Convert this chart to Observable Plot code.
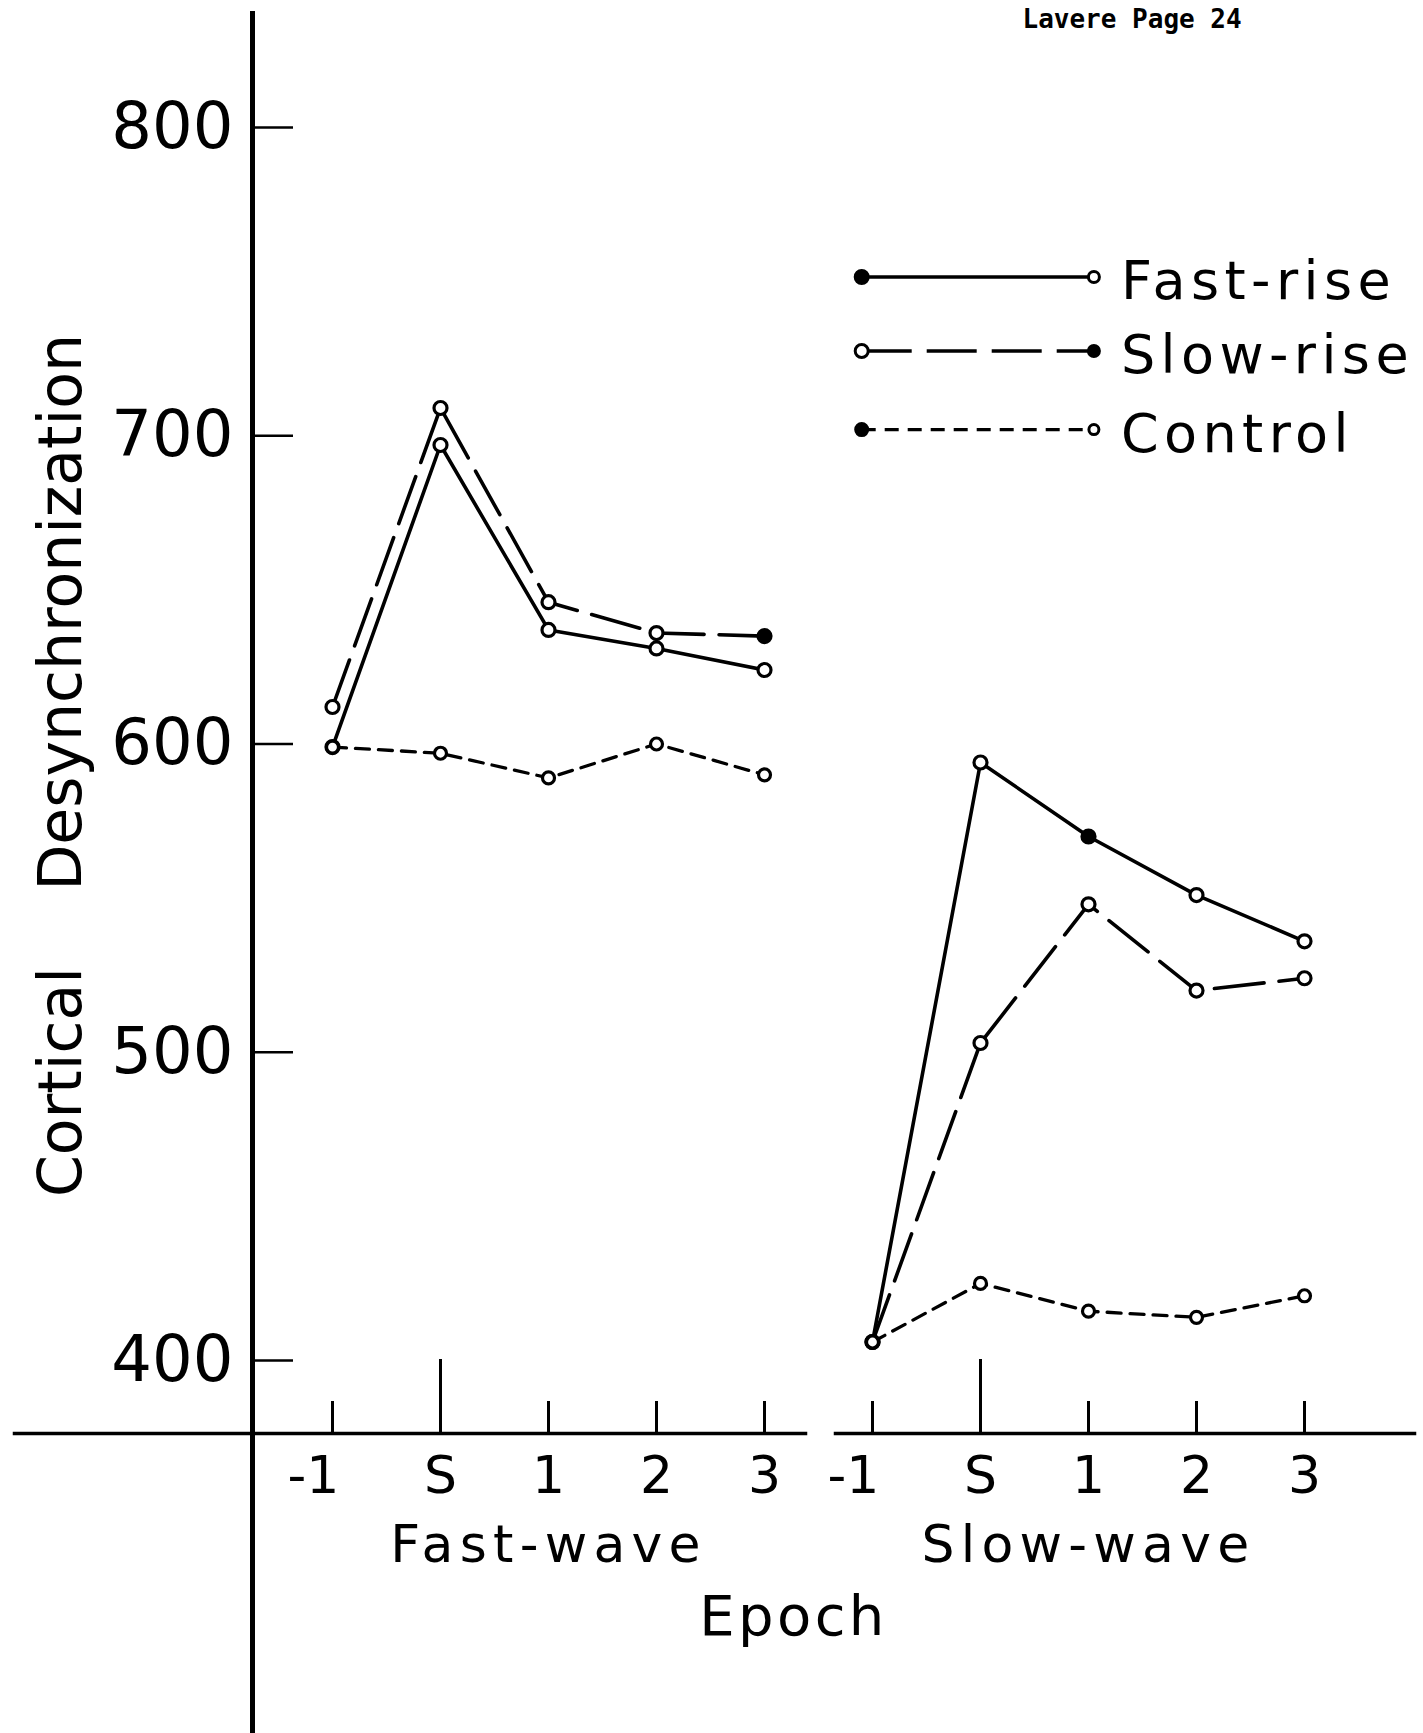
<!DOCTYPE html>
<html>
<head>
<meta charset="utf-8">
<script src="https://cdn.jsdelivr.net/npm/d3@7"></script>
<script src="https://cdn.jsdelivr.net/npm/@observablehq/plot@0.6"></script>
<style>
  html, body { margin: 0; padding: 0; background: #fff; }
  #chart svg { display: block; }
</style>
</head>
<body>
<div id="chart"></div>
<script>
// ---- data ----
const epochLabels = ["-1", "S", "1", "2", "3"];
const groups = ["Fast-wave", "Slow-wave"];
const seriesNames = ["Fast-rise", "Slow-rise", "Control"];
const fastRise = [599, 697, 637, 631, 624, 406, 594, 570, 551, 536];
const slowRise = [612, 709, 646, 636, 635, 406, 503, 548, 520, 524];
const control  = [599, 597, 589, 600, 590, 406, 425, 416, 414, 421];
const filledPoints = { "Fast-rise": [7], "Slow-rise": [4], "Control": [] };
const yTicks = [400, 500, 600, 700, 800];
const pageLabel = "Lavere Page 24";
const xTitle = "Epoch";
const yTitle = "Cortical\u00a0\u00a0\u00a0\u00a0Desynchronization";

// ---- styles ----
const dashes = { "Fast-rise": null, "Slow-rise": "50,15", "Control": "14,9" };
const widths = { "Fast-rise": 3.6, "Slow-rise": 3.6, "Control": 3.3 };
const radii = { "Fast-rise": 6.5, "Slow-rise": 6.5, "Control": 6 };
// legend placement (in scale units)
const legendX1 = 4.9, legendX2 = 7.05, legendTextX = 7.3;
const legendY = [751.5, 727.5, 702];
const legendLeftFilled = [true, false, true];

const seriesValues = { "Fast-rise": fastRise, "Slow-rise": slowRise, "Control": control };
const rows = [];
for (const s of seriesNames) {
  seriesValues[s].forEach((v, i) => {
    rows.push({ series: s, group: groups[Math.floor(i / epochLabels.length)], idx: i, value: v,
                filled: filledPoints[s].includes(i) });
  });
}
const n = epochLabels.length * groups.length;
const allIdx = d3.range(n);
const stimIdx = allIdx.filter(i => epochLabels[i % epochLabels.length] === "S");
const smallIdx = allIdx.filter(i => !stimIdx.includes(i));
const minusIdx = allIdx.filter(i => epochLabels[i % epochLabels.length].startsWith("-"));
const plainIdx = allIdx.filter(i => !minusIdx.includes(i));
const groupCenters = groups.map((g, k) => k * epochLabels.length + (epochLabels.length - 1) / 2);

const marks = [
  Plot.frame({ anchor: "left", strokeWidth: 5, insetBottom: -300 }),
  Plot.frame({ anchor: "bottom", strokeWidth: 3.5, insetLeft: -238, insetRight: 609 }),
  Plot.frame({ anchor: "bottom", strokeWidth: 3.5, insetLeft: 583 }),
  Plot.axisY({ ticks: yTicks, tickSize: -41, tickPadding: 60, strokeWidth: 2.5, fontSize: 64, label: null }),
  Plot.axisX({ ticks: smallIdx, tickSize: -32, strokeWidth: 3, tickFormat: () => "", label: null }),
  Plot.axisX({ ticks: stimIdx, tickSize: -74, strokeWidth: 3, tickFormat: () => "", label: null }),
  Plot.axisX({ ticks: plainIdx, tickSize: 0, tickPadding: 23, fontSize: 52,
               tickFormat: i => epochLabels[i % epochLabels.length], label: null }),
  Plot.axisX({ ticks: minusIdx, tickSize: 0, tickPadding: 23, fontSize: 52, dx: -19,
               tickFormat: i => epochLabels[i % epochLabels.length], label: null }),
  Plot.axisX({ ticks: groupCenters, tickSize: 0, tickPadding: 92, fontSize: 52,
               tickFormat: c => groups[groupCenters.indexOf(c)], label: null }),
  Plot.text([yTitle], { frameAnchor: "left", rotate: -90, dx: -191, dy: 42, fontSize: 60,
                        textAnchor: "middle", lineAnchor: "middle" }),
  Plot.text([xTitle], { frameAnchor: "bottom", dx: -40, dy: 184, fontSize: 56, lineAnchor: "middle" }),
  Plot.text([pageLabel], { frameAnchor: "top-left", dx: 770, dy: 14, textAnchor: "start", lineAnchor: "bottom",
                           fontFamily: "'DejaVu Sans Mono', monospace", fontWeight: "bold", fontSize: 26 })
];

for (const s of seriesNames) {
  const data = rows.filter(d => d.series === s);
  marks.push(Plot.line(data, { x: "idx", y: "value", z: "group", stroke: "black",
                               strokeWidth: widths[s], strokeDasharray: dashes[s] }));
}
for (const s of seriesNames) {
  const data = rows.filter(d => d.series === s);
  marks.push(Plot.dot(data.filter(d => !d.filled), { x: "idx", y: "value", r: radii[s], stroke: "black", strokeWidth: 3.2, fill: "white" }));
  marks.push(Plot.dot(data.filter(d => d.filled), { x: "idx", y: "value", r: radii[s], stroke: "black", strokeWidth: 3.2, fill: "black" }));
}
// legend
seriesNames.forEach((s, i) => {
  marks.push(Plot.link([s], { x1: legendX1, x2: legendX2, y1: legendY[i], y2: legendY[i], stroke: "black",
                              strokeWidth: widths[s], strokeDasharray: dashes[s] }));
  marks.push(Plot.dot([s], { x: legendX1, y: legendY[i], r: radii[s], stroke: "black", strokeWidth: 3,
                             fill: legendLeftFilled[i] ? "black" : "white" }));
  marks.push(Plot.dot([s], { x: legendX2, y: legendY[i], r: radii[s] - 1, stroke: "black", strokeWidth: 3,
                             fill: legendLeftFilled[i] ? "white" : "black" }));
});
marks.push(Plot.text(seriesNames, { x: legendTextX, y: (d, i) => legendY[i], textAnchor: "start",
                                    lineAnchor: "middle", dy: 5, fontSize: 54 }));

const chart = Plot.plot({
  width: 1423, height: 1733,
  marginLeft: 252, marginRight: 9, marginTop: 13, marginBottom: 300,
  style: { fontFamily: "'DejaVu Sans', sans-serif", background: "#fff", color: "#000", overflow: "visible" },
  x: { type: "linear", domain: [0, n - 1], range: [332, 1304] },
  y: { type: "linear", domain: [400, 800], range: [1360, 127] },
  marks
});
document.getElementById("chart").appendChild(chart);

// letter spacing tweaks to mimic lettering-guide text
d3.select(chart).selectAll("text").each(function () {
  const t = this.textContent;
  if (seriesNames.includes(t)) this.style.letterSpacing = "0.1em";
  else if (groups.includes(t)) this.style.letterSpacing = "0.12em";
  else if (t === xTitle) this.style.letterSpacing = "0.06em";
});
</script>
</body>
</html>
